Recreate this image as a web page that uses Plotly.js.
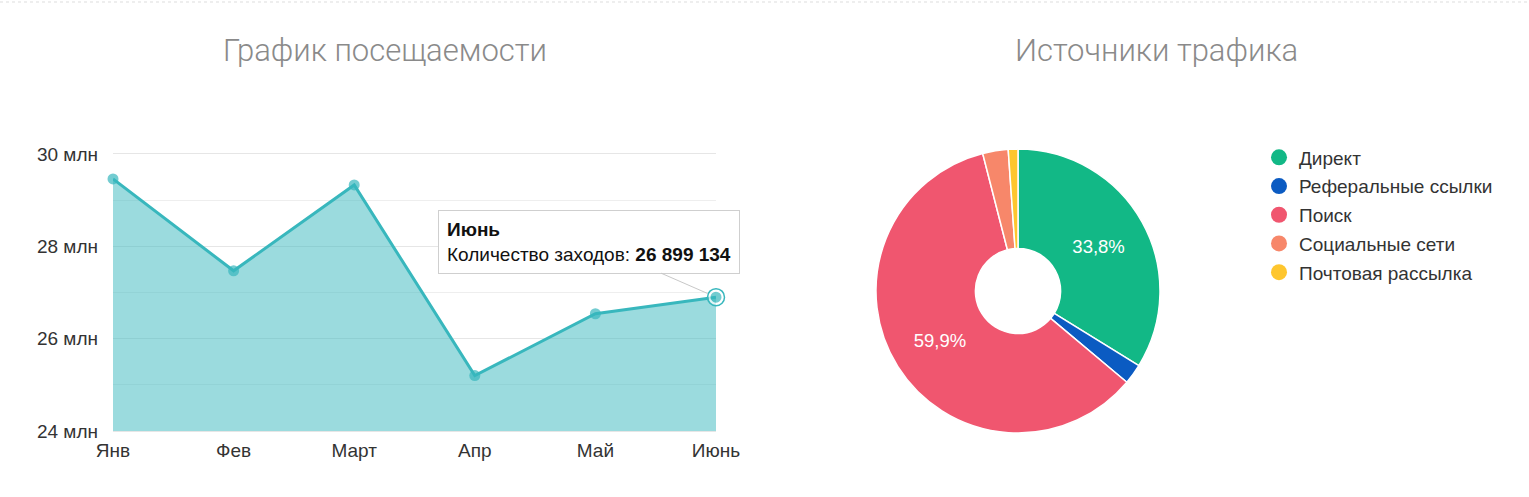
<!DOCTYPE html>
<html>
<head>
<meta charset="utf-8">
<script src="https://cdn.plot.ly/plotly-3.0.1.min.js"></script>
<style>
html,body{margin:0;padding:0;background:#fff;}
#chart{width:1529px;height:497px;}
</style>
</head>
<body>
<div id="chart"></div>
<script>
// ---- Data ----
const months = ['Янв', 'Фев', 'Март', 'Апр', 'Май', 'Июнь'];
const visits = [29460000, 27470000, 29330000, 25200000, 26540000, 26899134];
const yTickVals = [24000000, 26000000, 28000000, 30000000];
const yTickText = ['24 млн', '26 млн', '28 млн', '30 млн'];

const sources = ['Директ', 'Реферальные ссылки', 'Поиск', 'Социальные сети', 'Почтовая рассылка'];
const shares = [33.8, 2.3, 59.9, 2.9, 1.1];
const sourceColors = ['#12b886', '#0b5bc2', '#f0566f', '#f7876a', '#fec62e'];

const titleLeft = 'График посещаемости';
const titleRight = 'Источники трафика';
const tooltipLabel = 'Количество заходов';

// ---- Helpers ----
const fmt = v => String(Math.round(v)).replace(/\B(?=(\d{3})+(?!\d))/g, ' ');
const teal = '#38b7bd';
const last = months.length - 1;
const FONT = 'Liberation Sans, Arial, sans-serif';

const W = 1529, H = 497;
const px = x => x / W;
const py = y => 1 - y / H;

const traces = [
  {
    type: 'scatter', mode: 'lines+markers',
    x: months, y: visits,
    fill: 'tozeroy', fillcolor: 'rgba(56,183,189,0.5)',
    line: {color: teal, width: 3},
    marker: {
      color: teal,
      size: visits.map((v, i) => i === last ? 13 : 11),
      line: {color: visits.map((v, i) => i === last ? '#ffffff' : teal),
             width: visits.map((v, i) => i === last ? 2 : 0)}
    },
    cliponaxis: false, showlegend: false, hoverinfo: 'skip'
  },
  {
    type: 'scatter', mode: 'markers',
    x: [months[last]], y: [visits[last]],
    marker: {symbol: 'circle-open', size: 17, color: teal, line: {width: 1.5, color: teal}},
    cliponaxis: false, showlegend: false, hoverinfo: 'skip'
  },
  {
    type: 'pie', labels: sources, values: shares,
    sort: false, direction: 'clockwise', rotation: 0,
    hole: 0.3,
    marker: {colors: sourceColors, line: {color: '#ffffff', width: 1.5}},
    texttemplate: shares.map(v => v >= 10 ? '%{percent:.1%}' : ''),
    textposition: 'inside', insidetextorientation: 'horizontal',
    textfont: {color: '#ffffff', size: 18.5, family: FONT},
    domain: {x: [px(876), px(1160)], y: [py(433), py(149)]},
    showlegend: false, hoverinfo: 'skip'
  }
];

// legend entries (circle symbols) built from the source arrays
sources.forEach((s, i) => {
  traces.push({
    type: 'scatter', mode: 'markers', x: [null], y: [null],
    name: s, legendgroup: 'g' + i,
    marker: {color: sourceColors[i], size: 16, symbol: 'circle'},
    showlegend: true, hoverinfo: 'skip'
  });
});

const layout = {
  width: W, height: H,
  margin: {l: 0, r: 0, t: 0, b: 0},
  paper_bgcolor: '#ffffff', plot_bgcolor: '#ffffff',
  separators: ', ',
  font: {family: FONT, color: '#333333', size: 19},
  showlegend: true,
  legend: {
    x: px(1259), y: py(138.5), xanchor: 'left', yanchor: 'top',
    font: {size: 19, color: '#333333'},
    tracegroupgap: 1, itemclick: false, itemdoubleclick: false,
    bgcolor: 'rgba(0,0,0,0)'
  },
  xaxis: {
    domain: [px(113), px(716)],
    type: 'category', range: [0, last],
    showgrid: false, zeroline: false,
    showline: true, mirror: true, linecolor: '#e6e6e6', linewidth: 1,
    ticks: '', ticklabelstandoff: 2,
    tickfont: {size: 19, color: '#333333'},
    fixedrange: true
  },
  yaxis: {
    domain: [py(431), py(154)],
    range: [yTickVals[0], yTickVals[yTickVals.length - 1]],
    tickvals: yTickVals, ticktext: yTickText,
    showgrid: true, gridcolor: '#e6e6e6', gridwidth: 1,
    minor: {dtick: 1000000, showgrid: true, gridcolor: '#eeeeee', gridwidth: 1},
    zeroline: false, showline: false, ticks: '',
    ticklabelstandoff: 14,
    tickfont: {size: 19, color: '#333333'},
    fixedrange: true
  },
  annotations: [
    {xref: 'paper', yref: 'paper', x: px(385), y: py(50), text: titleLeft,
     showarrow: false, xanchor: 'center', yanchor: 'middle',
     font: {family: 'Roboto', weight: 300, size: 31, color: '#8a8a8a'}},
    {xref: 'paper', yref: 'paper', x: px(1156), y: py(50), text: titleRight,
     showarrow: false, xanchor: 'center', yanchor: 'middle',
     font: {family: 'Roboto', weight: 300, size: 31, color: '#8a8a8a'}},
    {xref: 'x', yref: 'y', x: months[last], y: visits[last],
     text: '<b>' + months[last] + '</b><br>' + tooltipLabel + ': <b>' + fmt(visits[last]) + '</b>',
     align: 'left', showarrow: true, arrowhead: 0, arrowwidth: 1, arrowcolor: '#c8c8c8',
     standoff: 9,
     ax: -127, ay: -55.5,
     bgcolor: '#ffffff', bordercolor: '#cfcfcf', borderwidth: 1, borderpad: 8,
     font: {size: 19, color: '#111111', family: FONT}}
  ],
  shapes: [
    {type: 'line', xref: 'paper', yref: 'paper', x0: 0, x1: 1, y0: py(2), y1: py(2),
     line: {color: '#dddddd', width: 1, dash: '3px,3px'}}
  ]
};

Plotly.newPlot('chart', traces, layout, {displayModeBar: false, staticPlot: true});
</script>
</body>
</html>
